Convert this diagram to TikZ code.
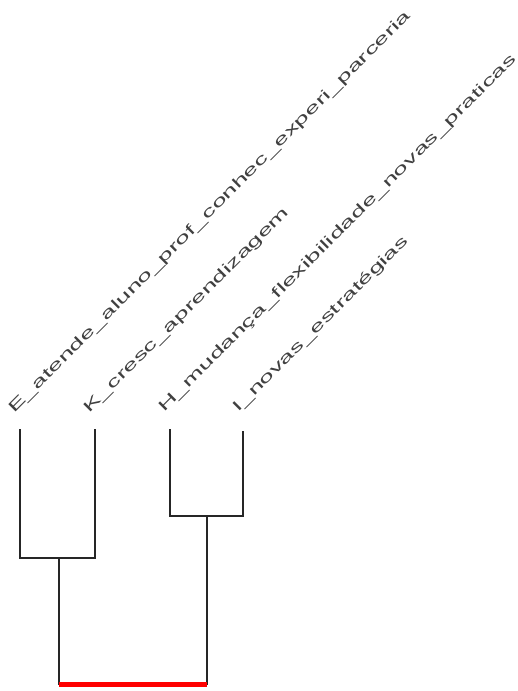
\documentclass[tikz,border=0pt]{standalone}
\usepackage{fontspec}
\setmainfont{Liberation Sans}
\newlength\reflabw
\tikzset{
  tree/.style={draw=black!85, line width=1.6pt, line cap=rect},
  rootbar/.style={draw=red, line width=5pt},
  leaflab/.style={rotate=45, anchor=base west, inner sep=0pt, text=black!75, font=\fontsize{15}{17}\selectfont}
}
\begin{document}
\settowidth\reflabw{\fontsize{15}{17}\selectfont E\_atende\_aluno\_prof\_conhec\_experi\_parceria}%
\pgfmathsetmacro\labsx{562/\reflabw}%
\begin{tikzpicture}[x=1pt,y=-1pt]
\useasboundingbox (0,0) rectangle (517,691);
% leaves
\coordinate (E) at (20,430);
\coordinate (K) at (95,430);
\coordinate (H) at (170,430);
\coordinate (I) at (243,432);
% merges
\coordinate (Eb) at (20,558);
\coordinate (Kb) at (95,558);
\coordinate (EK) at (59,558);
\coordinate (Hb) at (170,516);
\coordinate (Ib) at (243,516);
\coordinate (HI) at (207,516);
\coordinate (r1) at (59,684);
\coordinate (r2) at (207,684);
% labels
\node[leaflab] (lE) at (14,414) {\scalebox{\labsx}[1]{E\_atende\_aluno\_prof\_conhec\_experi\_parceria}};
\node[leaflab] (lK) at (89,414) {\scalebox{\labsx}[1]{K\_cresc\_aprendizagem}};
\node[leaflab] (lH) at (164,413) {\scalebox{\labsx}[1]{H\_mudança\_flexibilidade\_novas\_praticas}};
\node[leaflab] (lI) at (238,413) {\scalebox{\labsx}[1]{I\_novas\_estratégias}};
% tree
\draw[tree] (E) -- (Eb) -- (Kb) -- (K);
\draw[tree] (H) -- (Hb) -- (Ib) -- (I);
\draw[tree] (EK) -- (r1);
\draw[tree] (HI) -- (r2);
\draw[rootbar] (r1) -- (r2);
\end{tikzpicture}
\end{document}
